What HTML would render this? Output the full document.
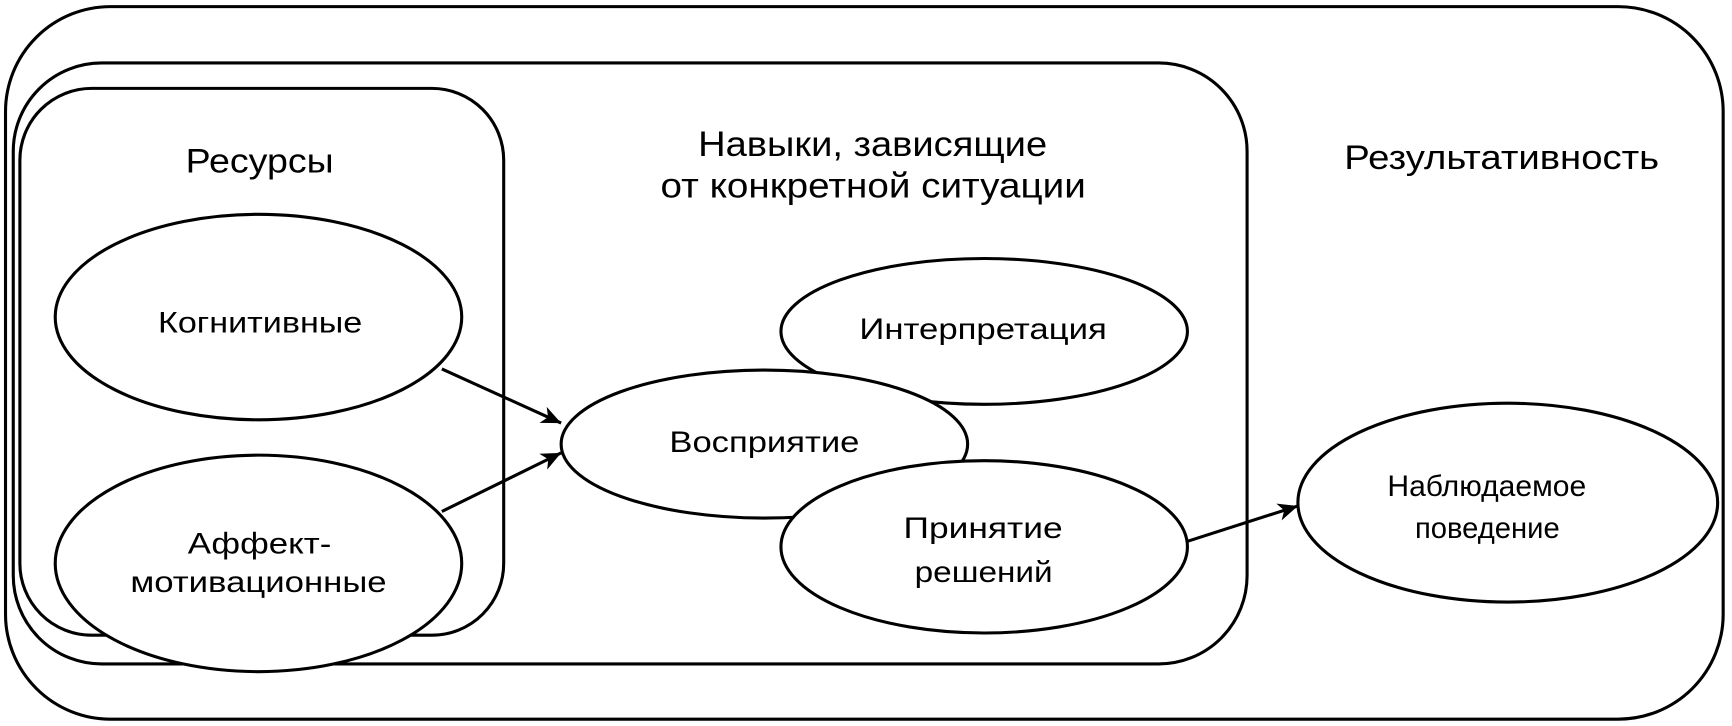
<!DOCTYPE html>
<html><head><meta charset="utf-8"><style>html,body{margin:0;padding:0;background:#fff}svg{display:block}</style></head>
<body>
<svg width="1732" height="726" viewBox="0 0 1568 657.2" preserveAspectRatio="none" xmlns="http://www.w3.org/2000/svg" font-family="Liberation Sans, DejaVu Sans, sans-serif" fill="none" stroke="#000" stroke-width="2.8">
<defs><marker id="a" markerWidth="20" markerHeight="16" refX="18" refY="8" orient="auto" markerUnits="userSpaceOnUse" viewBox="0 0 20 16"><path d="M0,0 L18,8 L0,16 L5,8 z" fill="#000" stroke="none"/></marker></defs>
<rect x="5" y="6" width="1555" height="645" rx="95" fill="#fff"/>
<rect x="12" y="57" width="1117" height="544" rx="80"/>
<rect x="18" y="80" width="438" height="495" rx="65"/>
<ellipse cx="234" cy="287" rx="184" ry="93" fill="#fff"/>
<ellipse cx="234" cy="510" rx="184" ry="98" fill="#fff"/>
<ellipse cx="891" cy="300" rx="184" ry="66" fill="#fff"/>
<ellipse cx="692" cy="402" rx="184" ry="67" fill="#fff"/>
<ellipse cx="891" cy="495" rx="184" ry="78" fill="#fff"/>
<ellipse cx="1365" cy="455" rx="190" ry="90" fill="#fff"/>
<line x1="400" y1="334" x2="508" y2="383" marker-end="url(#a)"/>
<line x1="400" y1="463" x2="508" y2="410" marker-end="url(#a)"/>
<line x1="1075" y1="490" x2="1175" y2="458" marker-end="url(#a)"/>
<g fill="#000" stroke="none">
<text x="168" y="156" font-size="31" textLength="134" lengthAdjust="spacingAndGlyphs">Ресурсы</text>
<text x="632" y="141" font-size="32" textLength="316" lengthAdjust="spacingAndGlyphs">Навыки, зависящие</text>
<text x="598" y="179" font-size="32" textLength="385" lengthAdjust="spacingAndGlyphs">от конкретной ситуации</text>
<text x="1217" y="153" font-size="31" textLength="285" lengthAdjust="spacingAndGlyphs">Результативность</text>
<text x="143" y="301" font-size="27" textLength="185" lengthAdjust="spacingAndGlyphs">Когнитивные</text>
<text x="170" y="501" font-size="27" textLength="130" lengthAdjust="spacingAndGlyphs">Аффект-</text>
<text x="118" y="536" font-size="27" textLength="232" lengthAdjust="spacingAndGlyphs">мотивационные</text>
<text x="778" y="307" font-size="27" textLength="224" lengthAdjust="spacingAndGlyphs">Интерпретация</text>
<text x="606" y="409" font-size="27" textLength="172" lengthAdjust="spacingAndGlyphs">Восприятие</text>
<text x="818" y="487" font-size="27" textLength="144" lengthAdjust="spacingAndGlyphs">Принятие</text>
<text x="828" y="527" font-size="27" textLength="125" lengthAdjust="spacingAndGlyphs">решений</text>
<text x="1256" y="449" font-size="27" textLength="180" lengthAdjust="spacingAndGlyphs">Наблюдаемое</text>
<text x="1281" y="487" font-size="27" textLength="131" lengthAdjust="spacingAndGlyphs">поведение</text>
</g>
</svg>
</body></html>
